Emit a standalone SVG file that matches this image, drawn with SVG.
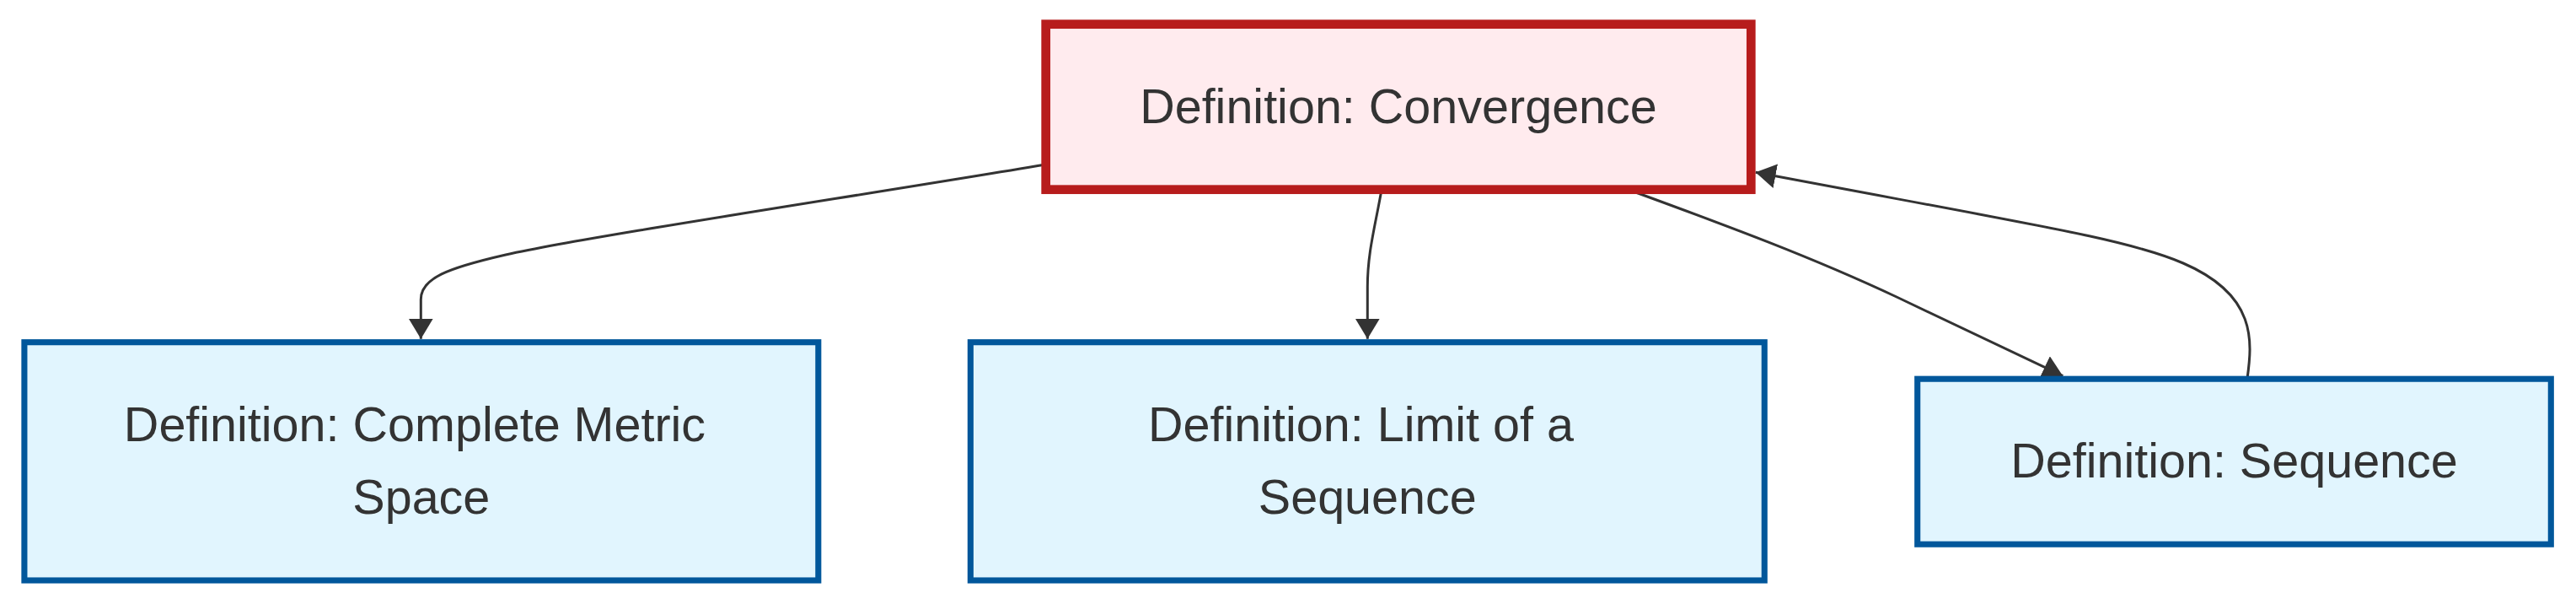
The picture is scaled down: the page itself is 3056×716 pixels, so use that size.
<svg xmlns="http://www.w3.org/2000/svg" width="3056" height="716" viewBox="0 0 3056 716">
  <style>
    .lbl { font-family: "Liberation Sans", Arial, sans-serif; font-size: 57.5px; fill: #333333; text-anchor: middle; }
    .main rect { fill: #ffebee; stroke: #b71c1c; stroke-width: 10.7; }
    .def rect { fill: #e1f5fe; stroke: #01579b; stroke-width: 7.1; }
    .edge { fill: none; stroke: #333333; stroke-width: 3; marker-end: url(#arrow); }
  </style>
  <defs>
    <marker id="arrow" viewBox="0 0 24 29" refX="24" refY="14.5" markerWidth="24" markerHeight="29" markerUnits="userSpaceOnUse" orient="auto">
      <path d="M0,0 L24,14.5 L0,29 Z" fill="#333333"/>
    </marker>
  </defs>
  <rect width="3056" height="716" fill="#ffffff"/>

  <g id="connectors">
    <path class="edge" d="M1240.7,195 C1000,235 700,280 600,302 C530,318 499.3,330 499.3,355 L499.3,401.7"/>
    <path class="edge" d="M1639,225 C1631,270 1622.3,300 1622.3,340 L1622.3,401.7"/>
    <path class="edge" d="M1935,226 C2050,268 2150,305 2250,352 L2447.3,445.7"/>
    <path class="edge" d="M2666,449 C2672,405 2678,350 2590,312 C2524,283.5 2420,268 2082.7,204.3"/>
  </g>

  <g id="node-convergence" class="main">
    <rect x="1240.7" y="28.7" width="836.6" height="196"/>
    <text class="lbl" x="1659" y="145.5">Definition: Convergence</text>
  </g>

  <g id="node-complete-metric-space" class="def">
    <rect x="28.9" y="405.7" width="941.9" height="282.3"/>
    <text class="lbl" x="492" y="522.5">Definition: Complete Metric</text>
    <text class="lbl" x="499.85" y="609">Space</text>
  </g>

  <g id="node-limit-of-sequence" class="def">
    <rect x="1151.35" y="405.7" width="941.9" height="282.3"/>
    <text class="lbl" x="1614.5" y="522.5">Definition: Limit of a</text>
    <text class="lbl" x="1622.3" y="609">Sequence</text>
  </g>

  <g id="node-sequence" class="def">
    <rect x="2274.7" y="449.2" width="751.6" height="196"/>
    <text class="lbl" x="2650.5" y="566">Definition: Sequence</text>
  </g>
</svg>
